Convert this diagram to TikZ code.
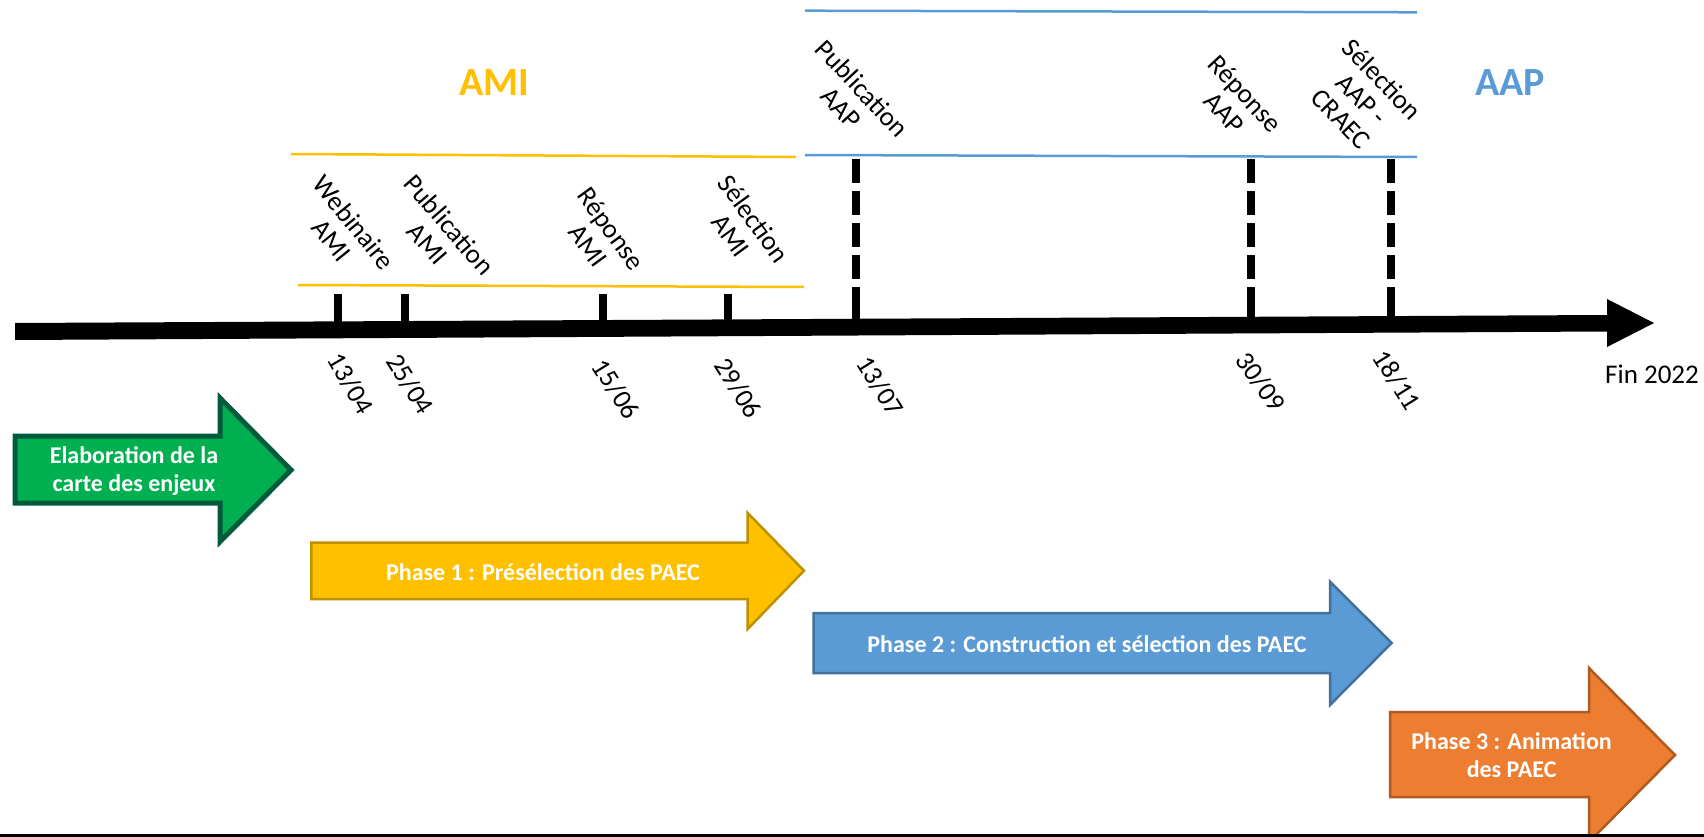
\documentclass[tikz,border=0pt]{standalone}
\usepackage{fontspec}
\setmainfont{Carlito}
\definecolor{amiY}{HTML}{FFC000}
\definecolor{aapB}{HTML}{5B9BD5}
\definecolor{grFill}{HTML}{00B050}
\definecolor{grLine}{HTML}{005A3C}
\definecolor{yeLine}{HTML}{BF9000}
\definecolor{blLine}{HTML}{41719C}
\definecolor{orFill}{HTML}{ED7D31}
\definecolor{orLine}{HTML}{AE5A21}
\begin{document}
\begin{tikzpicture}[x=1pt,y=-1pt,
  lbl/.style={font=\fontsize{27}{28.5}\selectfont, align=center, inner sep=0pt},
  datelbl/.style={font=\fontsize{27}{29}\selectfont, inner sep=0pt, rotate=-58},
  headlbl/.style={font=\bfseries\fontsize{40}{44}\selectfont, inner sep=0pt},
  arrtext/.style={font=\bfseries\fontsize{24}{28}\selectfont, text=white, align=center, inner sep=0pt},
  amiline/.style={draw=amiY, line width=2.5pt},
  aapline/.style={draw=aapB, line width=2.5pt},
  solidtick/.style={line width=8pt},
  dashtick/.style={line width=8pt, dash pattern=on 24pt off 8pt},
  blockarrow/.style={line width=2.5pt, miter limit=10}
]
\clip (0,0) rectangle (1704,837);
\fill[white] (0,0) rectangle (1704,837);

% bracket lines
\draw[amiline] (291,154) -- (796,157);
\draw[amiline] (298,285) -- (804,287);
\draw[aapline] (805,10.7) -- (1417,12.3);
\draw[aapline] (805,155) -- (1417,157);

% headings
\node[headlbl, text=amiY] (ami) at (494.5,83) {AMI};
\node[headlbl, text=aapB] (aap) at (1510,83) {AAP};

% ticks
\coordinate (t1) at (338,294);
\coordinate (t2) at (405,294);
\coordinate (t3) at (603,294);
\coordinate (t4) at (728,294);
\foreach \c in {t1,t2,t3,t4} \draw[solidtick] (\c) -- ++(0,34);
\coordinate (d1) at (856,159);
\coordinate (d2) at (1251,159);
\coordinate (d3) at (1391,159);
\foreach \c in {d1,d2,d3} {
  \draw[dashtick] (\c) -- ++(0,134);
  \draw[solidtick] (\c) ++(0,129) -- ++(0,38);
}

% timeline bar
\fill (15,323) -- (1607,315) -- (1607,299) -- (1654,323) -- (1607,347) -- (1607,331.5) -- (15,340) -- cycle;

% rotated event labels
\node[lbl, rotate=-51] (webi) at (343,231.5) {Webinaire\\AMI};
\node[lbl, rotate=-49] (pubami) at (438.7,234) {Publication\\AMI};
\node[lbl, rotate=-54] (repami) at (600,237) {Réponse\\AMI};
\node[lbl, rotate=-54] (selami) at (742.5,227) {Sélection\\AMI};
\node[lbl, rotate=-47] (pubaap) at (852,98) {Publication\\AAP};
\node[lbl, rotate=-47] (repaap) at (1235,103) {Réponse\\AAP};
\node[lbl, rotate=-46] (selaap) at (1362,99) {Sélection\\AAP -\\CRAEC};

% dates
\node[datelbl, rotate=-2] (dA) at (350.7,383.3) {13/04};
\node[datelbl] (dB) at (410,384) {25/04};
\node[datelbl] (dC) at (615.7,389) {15/06};
\node[datelbl] (dD) at (738.3,388.3) {29/06};
\node[datelbl] (dE) at (880,386) {13/07};
\node[datelbl, rotate=3] (dF) at (1260.7,381.7) {30/09};
\node[datelbl] (dG) at (1396.7,380) {18/11};
\node[lbl] (fin) at (1652,374.5) {Fin 2022};

% block arrows
\draw[blockarrow, fill=grFill, draw=grLine, line width=5pt]
  (15,436) -- (220,436) -- (220,398) -- (291,470) -- (220,541.7) -- (220,503) -- (15,503) -- cycle;
\node[arrtext] (elab) at (134,471) {Elaboration de la\\carte des enjeux};

\draw[blockarrow, fill=amiY, draw=yeLine]
  (311.4,542.7) -- (747.7,542.7) -- (747.7,513) -- (804,570.7) -- (747.7,629) -- (747.7,599) -- (311.4,599) -- cycle;
\node[arrtext] (ph1) at (543,571.7) {Phase 1 : Présélection des PAEC};

\draw[blockarrow, fill=aapB, draw=blLine]
  (813.5,613) -- (1330,613) -- (1330,581.7) -- (1391.6,643) -- (1330,705) -- (1330,673) -- (813.5,673) -- cycle;
\node[arrtext] (ph2) at (1087,644) {Phase 2 : Construction et sélection des PAEC};

\draw[blockarrow, fill=orFill, draw=orLine]
  (1390,712) -- (1589,712) -- (1589,668) -- (1675,755) -- (1589,842) -- (1589,797) -- (1390,797) -- cycle;
\node[arrtext] (ph3) at (1511.6,755.3) {Phase 3 : Animation\\des PAEC};

% bottom rule
\draw[line width=2.5pt] (0,835.5) -- (1704,835.5);
\end{tikzpicture}
\end{document}
